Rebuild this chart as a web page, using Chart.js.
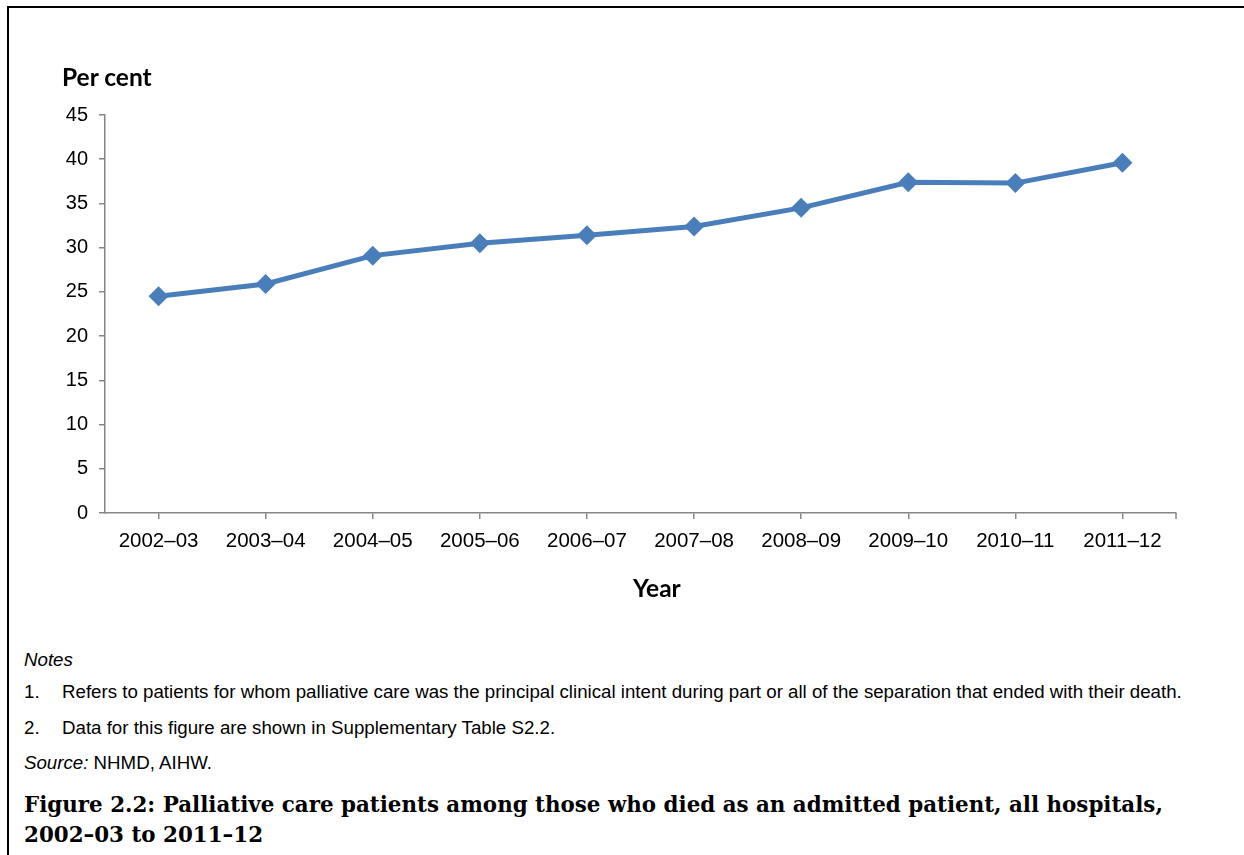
<!DOCTYPE html>
<html>
<head>
<meta charset="utf-8">
<script src="https://cdn.jsdelivr.net/npm/chart.js@4.4.1/dist/chart.umd.min.js"></script>
<style>
  html, body { margin: 0; padding: 0; background: #fff; }
  body { width: 1244px; height: 855px; position: relative; overflow: hidden; }
  .frame { position: absolute; left: 7px; top: 6px; right: 0; bottom: 0;
           border-top: 2.5px solid #000; border-left: 2.5px solid #000; }
  #chart { position: absolute; left: 0; top: 0; }
  .t { position: absolute; white-space: nowrap; color: #000; }
  .axt { font: bold 24.5px Lato, "Open Sans", sans-serif; line-height: 30px; }
  .note { font: 18.7px "Liberation Sans", Arial, sans-serif; line-height: 24px; }
  .note i { font-style: italic; }
  .num { display: inline-block; width: 38px; }
  .cap { left: 24px; font: bold 21.4px "DejaVu Serif", "Liberation Serif", serif; line-height: 30px; }
</style>
</head>
<body>
<div class="frame"></div>
<canvas id="chart" width="1244" height="640"></canvas>
<div class="t axt" style="left:62px; top:62px;">Per cent</div>
<div class="t axt" style="left:633px; top:573px;">Year</div>
<div class="t note" style="left:24px; top:648px;"><i>Notes</i></div>
<div class="t note" style="left:24px; top:680px;"><span class="num">1.</span>Refers to patients for whom palliative care was the principal clinical intent during part or all of the separation that ended with their death.</div>
<div class="t note" style="left:24px; top:716px;"><span class="num">2.</span>Data for this figure are shown in Supplementary Table S2.2.</div>
<div class="t note" style="left:24px; top:751px;"><i>Source:</i> NHMD, AIHW.</div>
<div class="t cap" style="top:790px;">Figure 2.2: Palliative care patients among those who died as an admitted patient, all hospitals,</div>
<div class="t cap" style="top:820px;">2002–03 to 2011–12</div>

<script>
// Financial years shown on the category axis
const years = ['2002–03', '2003–04', '2004–05', '2005–06', '2006–07',
               '2007–08', '2008–09', '2009–10', '2010–11', '2011–12'];
// Palliative care patients as a share of deaths in hospital (per cent)
const palliativePct = [24.5, 25.9, 29.1, 30.5, 31.4, 32.4, 34.5, 37.4, 37.3, 39.6];
// Value axis range
const yMin = 0;
const yMax = 45;
const yStep = 5;

const axisGrey = '#868686';
const lineBlue = '#4a7ebb';

// Closing tick at the right end of the category axis
const endTick = {
  id: 'endTick',
  afterDraw(chart) {
    const x = chart.scales.x;
    const ctx = chart.ctx;
    ctx.save();
    ctx.strokeStyle = axisGrey;
    ctx.lineWidth = 1.5;
    ctx.beginPath();
    ctx.moveTo(x.right, x.top);
    ctx.lineTo(x.right, x.top + 6);
    ctx.stroke();
    ctx.restore();
  }
};

new Chart(document.getElementById('chart'), {
  type: 'line',
  data: {
    labels: years,
    datasets: [{
      data: palliativePct,
      borderColor: lineBlue,
      backgroundColor: lineBlue,
      borderWidth: 5,
      pointStyle: 'rectRot',
      pointRadius: 10,
      pointBorderWidth: 0,
      pointBackgroundColor: lineBlue,
      tension: 0,
      fill: false
    }]
  },
  options: {
    responsive: false,
    animation: false,
    events: [],
    layout: { padding: { top: 115, right: 68, bottom: 0, left: 0 } },
    plugins: { legend: { display: false }, tooltip: { enabled: false } },
    scales: {
      x: {
        offset: true,
        grid: { drawOnChartArea: false, offset: false, tickLength: 6, color: axisGrey, lineWidth: 1.5 },
        border: { color: axisGrey, width: 1.5 },
        ticks: { color: '#000', font: { family: 'Liberation Sans', size: 20.5 }, padding: 10, maxRotation: 0, autoSkip: false },
        afterFit(scale) { scale.height = 127; }
      },
      y: {
        min: yMin, max: yMax,
        grid: { drawOnChartArea: false, tickLength: 6, color: axisGrey, lineWidth: 1.5 },
        border: { color: axisGrey, width: 1.5 },
        ticks: { stepSize: yStep, color: '#000', font: { family: 'Liberation Sans', size: 20 }, padding: 11 },
        afterFit(scale) { scale.width = 105; }
      }
    }
  },
  plugins: [endTick]
});
</script>
</body>
</html>
